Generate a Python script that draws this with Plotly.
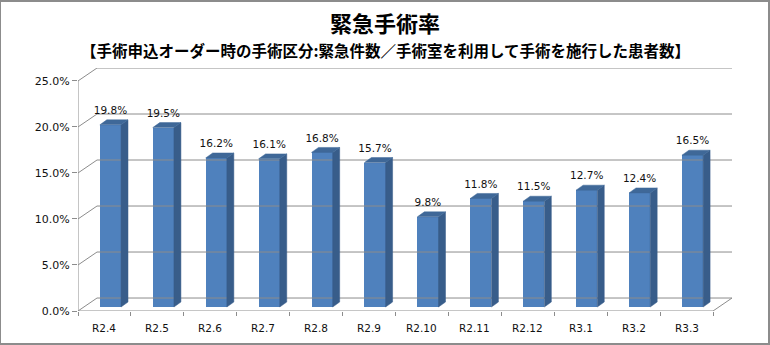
import plotly.graph_objects as go

# Monthly emergency-surgery rate (%)
months = ["R2.4", "R2.5", "R2.6", "R2.7", "R2.8", "R2.9",
          "R2.10", "R2.11", "R2.12", "R3.1", "R3.2", "R3.3"]
rates = [19.8, 19.5, 16.2, 16.1, 16.8, 15.7, 9.8, 11.8, 11.5, 12.7, 12.4, 16.5]
y_ticks = [0, 5, 10, 15, 20, 25]

# Pseudo-3D geometry (x in category slots, y in percent)
n = len(months)
WALL_DX, WALL_DY = 0.359, 1.41      # depth of the back wall
BAR_DX, BAR_DY = 0.113, 0.435       # front face of the bars sits inside the box
BAR_W = 0.40                        # front face width
SIDE_DX, SIDE_DY = 0.132, 0.54      # depth of each column

FRONT = "#4F81BD"
SIDE = "#385D8A"
TOP = "#3F6898"
GRID = "#8C8C8C"
LABEL_FONT = dict(family="DejaVu Sans, Verdana, sans-serif", size=10.5, color="#111111")

fig = go.Figure()

# Walls: diagonal left-wall grid lines + horizontal back-wall grid lines
for v in y_ticks:
    fig.add_trace(go.Scatter(
        x=[0, WALL_DX, n + WALL_DX], y=[v, v + WALL_DY, v + WALL_DY],
        mode="lines", line=dict(color=GRID, width=1),
        hoverinfo="skip", showlegend=False))
# Front vertical axis and floor edges
fig.add_trace(go.Scatter(
    x=[0, 0], y=[0, y_ticks[-1]], mode="lines",
    line=dict(color=GRID, width=1), hoverinfo="skip", showlegend=False))
fig.add_trace(go.Scatter(
    x=[0, n, n + WALL_DX], y=[0, 0, WALL_DY], mode="lines",
    line=dict(color=GRID, width=1), hoverinfo="skip", showlegend=False))

# Columns
centers = [i + 0.5 + BAR_DX for i in range(n)]
fig.add_trace(go.Bar(
    x=centers, y=rates, base=BAR_DY, width=BAR_W,
    marker=dict(color=FRONT, line=dict(width=0)),
    showlegend=False, hoverinfo="skip"))

for c, v in zip(centers, rates):
    xl, xr = c - BAR_W / 2, c + BAR_W / 2
    yb, yt = BAR_DY, BAR_DY + v
    # right side face
    fig.add_trace(go.Scatter(
        x=[xr, xr + SIDE_DX, xr + SIDE_DX, xr, xr],
        y=[yb, yb + SIDE_DY, yt + SIDE_DY, yt, yb],
        fill="toself", fillcolor=SIDE, mode="lines",
        line=dict(color=SIDE, width=0.5), hoverinfo="skip", showlegend=False))
    # top face
    fig.add_trace(go.Scatter(
        x=[xl, xr, xr + SIDE_DX, xl + SIDE_DX, xl],
        y=[yt, yt, yt + SIDE_DY, yt + SIDE_DY, yt],
        fill="toself", fillcolor=TOP, mode="lines",
        line=dict(color=TOP, width=0.5), hoverinfo="skip", showlegend=False))

# Value labels
fig.add_trace(go.Scatter(
    x=centers, y=[BAR_DY + v + 1.45 for v in rates],
    mode="text", text=[f"{v:.1f}%" for v in rates],
    textfont=LABEL_FONT, hoverinfo="skip", showlegend=False))

# Category labels centred under each slot
annotations = [
    dict(text=m, x=i + 0.5, xref="x", y=-17 / 243, yref="paper",
         xanchor="center", yanchor="middle", showarrow=False, font=LABEL_FONT)
    for i, m in enumerate(months)
]
annotations += [
    dict(text="<b>緊急手術率</b>", xref="paper", yref="paper",
         x=(385 - 78) / 654, y=(311 - 22) / 243,
         xanchor="center", yanchor="middle", showarrow=False,
         font=dict(family="Noto Sans CJK JP", size=22, color="#000000")),
    dict(text="<b>【手術申込オーダー時の手術区分:緊急件数／手術室を利用して手術を施行した患者数】</b>",
         xref="paper", yref="paper",
         x=(385 - 78) / 654, y=(311 - 50) / 243,
         xanchor="center", yanchor="middle", showarrow=False,
         font=dict(family="Noto Sans CJK JP", size=15.5, color="#000000")),
]

fig.update_layout(
    width=770, height=345,
    margin=dict(l=78, r=38, t=68, b=34),
    paper_bgcolor="white", plot_bgcolor="white",
    bargap=0,
    xaxis=dict(range=[0, n + WALL_DX], showgrid=False, zeroline=False,
               tickvals=list(range(n + 1)), ticktext=[""] * (n + 1),
               ticks="outside", ticklen=4, tickcolor=GRID,
               showline=False, fixedrange=True),
    yaxis=dict(range=[0, y_ticks[-1] + WALL_DY], showgrid=False, zeroline=False,
               tickvals=y_ticks, ticktext=[f"{v:.1f}%" for v in y_ticks],
               ticks="outside", ticklen=5, tickcolor=GRID,
               tickfont=dict(family="DejaVu Sans, Verdana, sans-serif", size=11, color="#111111"),
               showline=False, fixedrange=True),
    shapes=[dict(type="rect", xref="paper", yref="paper",
                 x0=-78 / 654, x1=1 + 37 / 654, y0=-33 / 243, y1=1 + 67 / 243,
                 line=dict(color="#8C8C8C", width=2))],
    annotations=annotations,
)

fig.write_html("out.html")
